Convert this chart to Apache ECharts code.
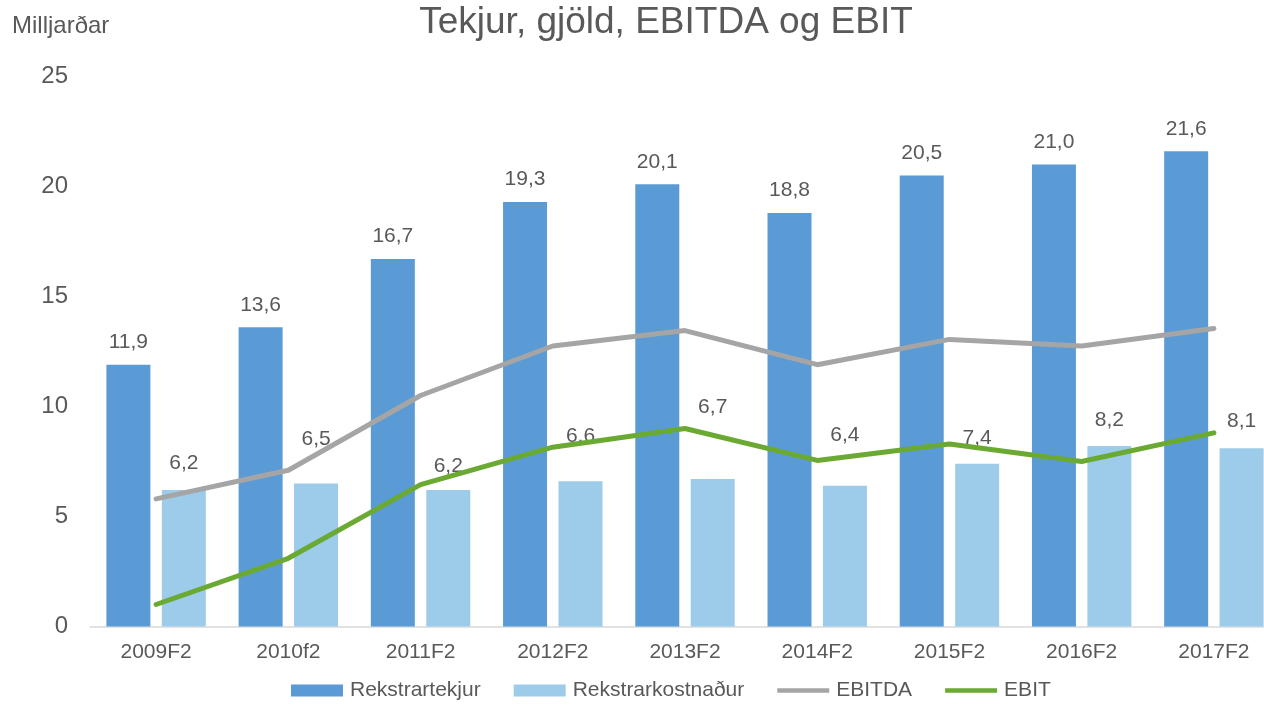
<!DOCTYPE html>
<html>
<head>
<meta charset="utf-8">
<title>Tekjur, gjöld, EBITDA og EBIT</title>
<script src="https://cdn.jsdelivr.net/npm/echarts@6/dist/echarts.min.js"></script>
<style>
  html, body { margin: 0; padding: 0; background: #fff; }
  #chart { width: 1264px; height: 712px; }
</style>
</head>
<body>
<div id="chart"></div>
<script>
// gögn
const years = ['2009F2', '2010f2', '2011F2', '2012F2', '2013F2', '2014F2', '2015F2', '2016F2', '2017F2'];
const revenue = [11.9, 13.6, 16.7, 19.3, 20.1, 18.8, 20.5, 21.0, 21.6];
const costs = [6.2, 6.5, 6.2, 6.6, 6.7, 6.4, 7.4, 8.2, 8.1];
const ebitda = [5.8, 7.1, 10.5, 12.75, 13.45, 11.9, 13.05, 12.75, 13.55];
const ebit = [1.0, 3.1, 6.45, 8.15, 9.0, 7.55, 8.3, 7.5, 8.8];
const yTicks = [0, 5, 10, 15, 20, 25];

const font = '"Liberation Sans", Arial, sans-serif';
const txt = '#595959';

// labels on the light bars were moved by hand in the original
const costLabelLift = [-4, -22, -1, -23, -49, -28, -3, -3, -5];

const fmt = (p) => p.value.toFixed(1).replace('.', ',');
// thin bar used as legend mark for the lines
const lineIcon = 'path://M0,0 L112,0 L112,10 L0,10 Z';

const chart = echarts.init(document.getElementById('chart'));

const option = {
  animation: false,
  textStyle: { fontFamily: font, color: txt },
  graphic: [
    {
      type: 'text', left: 12, top: 14,
      style: { text: 'Milljarðar', font: '24px ' + font, fill: txt }
    },
    {
      type: 'text', x: 666, y: 4,
      style: { text: 'Tekjur, gjöld, EBITDA og EBIT', font: '37px ' + font, fill: txt, textAlign: 'center' }
    }
  ],
  legend: {
    bottom: 6,
    left: 286,
    itemWidth: 52,
    itemHeight: 12,
    itemGap: 33,
    textStyle: { fontSize: 21, color: txt, fontFamily: font, padding: [0, 0, 0, 2] },
    data: [
      { name: 'Rekstrartekjur', icon: 'rect' },
      { name: 'Rekstrarkostnaður', icon: 'rect' },
      { name: 'EBITDA', icon: lineIcon },
      { name: 'EBIT', icon: lineIcon }
    ]
  },
  // the plot runs past the right edge of the picture, as in the original
  grid: { left: 90, width: 1190, top: 76.5, bottom: 85.5, outerBoundsMode: 'none', containLabel: false },
  xAxis: {
    type: 'category',
    data: years,
    axisTick: { show: false },
    axisLine: { lineStyle: { color: '#d9d9d9', width: 1.5 } },
    axisLabel: { fontSize: 21, color: txt, margin: 15, fontFamily: font }
  },
  yAxis: {
    type: 'value',
    min: yTicks[0],
    max: yTicks[yTicks.length - 1],
    interval: 5,
    splitLine: { show: false },
    axisLine: { show: false },
    axisTick: { show: false },
    axisLabel: { fontSize: 24, color: txt, margin: 22, fontFamily: font }
  },
  series: [
    {
      name: 'Rekstrartekjur',
      type: 'bar',
      data: revenue,
      barWidth: 44,
      barGap: '26%',
      itemStyle: { color: '#5b9bd5' },
      label: { show: true, position: 'top', distance: 12, fontSize: 21, color: txt, formatter: fmt }
    },
    {
      name: 'Rekstrarkostnaður',
      type: 'bar',
      barWidth: 44,
      data: costs.map((v, i) => ({
        value: v,
        label: { offset: [0, costLabelLift[i]] }
      })),
      itemStyle: { color: '#9dcbea' },
      label: { show: true, position: 'top', distance: 12, fontSize: 21, color: txt, formatter: fmt }
    },
    {
      name: 'EBITDA',
      type: 'line',
      data: ebitda,
      symbol: 'none',
      lineStyle: { color: '#a5a5a5', width: 5, cap: 'round' },
      itemStyle: { color: '#a5a5a5' }
    },
    {
      name: 'EBIT',
      type: 'line',
      data: ebit,
      symbol: 'none',
      lineStyle: { color: '#6aaa32', width: 5, cap: 'round' },
      itemStyle: { color: '#6aaa32' }
    }
  ]
};

chart.setOption(option);
</script>
</body>
</html>
